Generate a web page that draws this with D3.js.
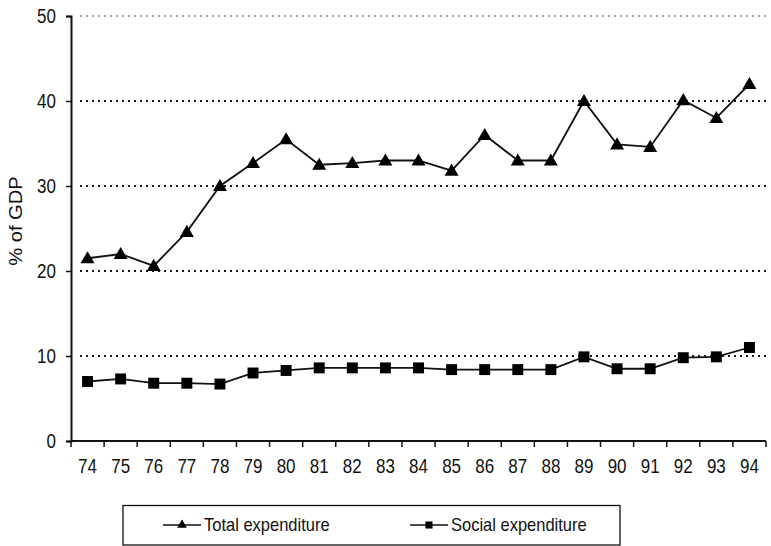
<!DOCTYPE html>
<html>
<head>
<meta charset="utf-8">
<script src="https://cdn.jsdelivr.net/npm/d3@7"></script>
<style>
  html, body { margin: 0; padding: 0; background: #fff; }
  svg { display: block; }
  text { font-family: "Liberation Sans", Arial, sans-serif; fill: #111; }
</style>
</head>
<body>
<svg id="chart" width="771" height="546"></svg>
<script>
// Years (two-digit labels) along the category axis
const years = ["74","75","76","77","78","79","80","81","82","83","84",
               "85","86","87","88","89","90","91","92","93","94"];

// Total government expenditure, % of GDP
const totalExpenditure = [21.5, 22.0, 20.6, 24.6, 30.0, 32.7, 35.5, 32.5, 32.7, 33.0, 33.0,
                          31.8, 36.0, 33.0, 33.0, 40.0, 34.9, 34.6, 40.1, 38.0, 42.0];

// Social expenditure, % of GDP
const socialExpenditure = [7.0, 7.3, 6.8, 6.8, 6.7, 8.0, 8.3, 8.6, 8.6, 8.6, 8.6,
                           8.4, 8.4, 8.4, 8.4, 9.9, 8.5, 8.5, 9.8, 9.9, 11.0];

const yTicks = [0, 10, 20, 30, 40, 50];
const seriesNames = ["Total expenditure", "Social expenditure"];

const svg = d3.select("#chart");
const plotLeft = 71, plotRight = 766, plotTop = 16, plotBottom = 441;
const textStretch = 1.15;   // tall, narrow lettering
const tickFont = 17;

const x = d3.scaleBand().domain(years).range([plotLeft, plotRight]).paddingInner(0).paddingOuter(0);
const y = d3.scaleLinear().domain([0, 50]).range([plotBottom, plotTop]);
const cx = d => x(d) + x.bandwidth() / 2;

// Dotted horizontal gridlines
svg.append("g").selectAll("line")
  .data(yTicks.filter(t => t > 0))
  .join("line")
  .attr("x1", plotLeft + 9).attr("x2", plotRight)
  .attr("y1", d => y(d)).attr("y2", d => y(d))
  .attr("stroke", d => d === 50 ? "#8a8a8a" : "#1a1a1a")
  .attr("stroke-width", d => d === 50 ? 1.5 : 2)
  .attr("stroke-dasharray", "2,4");

// Y axis
const yAxis = svg.append("g")
  .attr("transform", `translate(${plotLeft},0)`)
  .call(d3.axisLeft(y).tickValues(yTicks).tickSize(5).tickPadding(10).tickFormat(d3.format("d")));
yAxis.select(".domain").attr("stroke", "#111").attr("stroke-width", 2);
yAxis.selectAll(".tick line").attr("stroke", "#111").attr("stroke-width", 1.5);
yAxis.selectAll(".tick text")
  .attr("font-size", tickFont)
  .attr("font-family", "Liberation Sans, Arial, sans-serif")
  .attr("fill", "#111")
  .attr("dy", null)
  .attr("dominant-baseline", "central")
  .attr("transform", `scale(1,${textStretch})`);

// X axis: labels centred in each band, ticks on band boundaries
const xAxis = svg.append("g")
  .attr("transform", `translate(0,${plotBottom})`)
  .call(d3.axisBottom(x).tickSize(0).tickPadding(0));
xAxis.select(".domain").remove();
xAxis.selectAll(".tick text")
  .attr("font-size", tickFont)
  .attr("font-family", "Liberation Sans, Arial, sans-serif")
  .attr("fill", "#111")
  .attr("y", 0).attr("dy", null)
  .attr("dominant-baseline", "alphabetic")
  .attr("transform", `translate(0,32) scale(1,${textStretch})`);

svg.append("line")
  .attr("x1", plotLeft).attr("x2", plotRight)
  .attr("y1", plotBottom).attr("y2", plotBottom)
  .attr("stroke", "#111").attr("stroke-width", 2);

const boundaries = years.map(d => x(d)).concat([x(years[years.length - 1]) + x.bandwidth()]);
svg.append("g").selectAll("line")
  .data(boundaries)
  .join("line")
  .attr("x1", d => d).attr("x2", d => d)
  .attr("y1", plotBottom).attr("y2", plotBottom + 6)
  .attr("stroke", "#111").attr("stroke-width", 1.5);

// Y axis title
svg.append("text")
  .attr("transform", `translate(22,221) scale(1,${textStretch}) rotate(-90)`)
  .attr("text-anchor", "middle")
  .attr("font-size", 17.5)
  .text("% of GDP");

// Series lines and markers
const line = d3.line().x((d, i) => cx(years[i])).y(d => y(d));
const triangle = d3.symbol().type(d3.symbolTriangle);
const square = d3.symbol().type(d3.symbolSquare);

svg.append("path").datum(totalExpenditure)
  .attr("d", line).attr("fill", "none").attr("stroke", "#111").attr("stroke-width", 1.8);
svg.append("path").datum(socialExpenditure)
  .attr("d", line).attr("fill", "none").attr("stroke", "#111").attr("stroke-width", 1.8);

svg.append("g").selectAll("path")
  .data(totalExpenditure)
  .join("path")
  .attr("transform", (d, i) => `translate(${cx(years[i])},${y(d) + 1})`)
  .attr("d", triangle.size(85)())
  .attr("fill", "#000");

svg.append("g").selectAll("path")
  .data(socialExpenditure)
  .join("path")
  .attr("transform", (d, i) => `translate(${cx(years[i])},${y(d)})`)
  .attr("d", square.size(120)())
  .attr("fill", "#000");

// Legend
const legend = svg.append("g");
legend.append("rect")
  .attr("x", 123).attr("y", 505.5).attr("width", 497).attr("height", 39.5)
  .attr("fill", "none").attr("stroke", "#111").attr("stroke-width", 1.3);

const legendItems = [
  { name: seriesNames[0], x0: 163, shape: triangle.size(40)() },
  { name: seriesNames[1], x0: 410, shape: square.size(50)() }
];
const ly = 525;
legendItems.forEach(item => {
  legend.append("line")
    .attr("x1", item.x0).attr("x2", item.x0 + 38)
    .attr("y1", ly).attr("y2", ly)
    .attr("stroke", "#111").attr("stroke-width", 1.6);
  legend.append("path")
    .attr("transform", `translate(${item.x0 + 19},${ly})`)
    .attr("d", item.shape).attr("fill", "#000");
  legend.append("text")
    .attr("transform", `translate(${item.x0 + 41},${ly + 6}) scale(1,${textStretch})`)
    .attr("font-size", 16.5)
    .text(item.name);
});
</script>
</body>
</html>
